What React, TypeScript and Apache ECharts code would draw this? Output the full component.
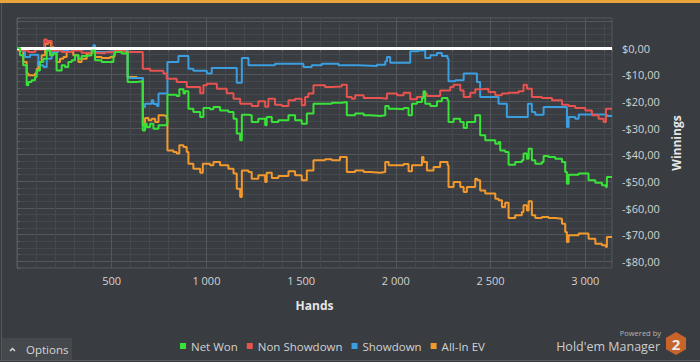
import React, { useEffect, useRef } from "react";
import * as echarts from "echarts";

const legendNames = ["Net Won", "Non Showdown", "Showdown", "All-In EV"];
const xAxisName = "Hands";
const yAxisName = "Winnings";

const netWonHands = [0, 16, 33, 51, 60, 77, 95, 104, 121, 139, 157, 174, 192, 209, 236, 253, 271, 289, 306, 324, 341, 368, 394, 412, 447, 491, 509, 517, 553, 579, 584, 632, 664, 676, 685, 703, 720, 747, 790, 794, 843, 857, 879, 887, 905, 931, 967, 984, 1019, 1037, 1072, 1116, 1143, 1160, 1178, 1187, 1222, 1239, 1274, 1310, 1318, 1345, 1380, 1433, 1468, 1503, 1530, 1565, 1626, 1662, 1714, 1741, 1785, 1830, 1865, 1918, 1944, 1962, 2006, 2041, 2067, 2085, 2111, 2138, 2146, 2155, 2182, 2217, 2243, 2273, 2278, 2305, 2340, 2358, 2375, 2419, 2445, 2472, 2525, 2542, 2551, 2577, 2595, 2630, 2665, 2674, 2692, 2701, 2718, 2736, 2771, 2780, 2806, 2841, 2877, 2894, 2903, 2912, 2965, 3017, 3053, 3088, 3109, 3114, 3141];
const netWonValues = [0, -2.75, -6.5, -14, -12.75, -12.1, -10.9, -8.4, -5.25, -4, -0.9, -2.75, -2.1, -8.4, -6.5, -7.1, -5.25, -4.6, -2.75, -4, -3, -2.75, -0.9, -4.6, -5.25, -5.25, -2.75, -1.5, -2.1, -1.5, -12.75, -12.5, -30.9, -28.4, -29.6, -28.4, -30.25, -29, -28.4, -17.5, -18, -15.5, -17.1, -16.25, -22.75, -24, -25.9, -22.5, -23, -22.1, -23.4, -24, -26.5, -32.1, -34.6, -25, -25.25, -27.75, -26.5, -29, -25.9, -27.75, -27.1, -25.25, -27.1, -28.4, -24.6, -20.9, -20.9, -20.5, -20.25, -25.25, -24.6, -25.25, -25.5, -25.25, -21.75, -22.75, -23, -22.5, -25.25, -20.9, -20.25, -18.75, -16.25, -20.9, -21.75, -20, -18.75, -19.6, -27.75, -26.5, -27.75, -30, -27.75, -25.25, -32.75, -34.6, -35.9, -35.25, -38.4, -39, -43.75, -42.75, -42.1, -39.6, -41.5, -37.75, -42.1, -43.4, -42.75, -40.5, -40.9, -41.5, -42.75, -46.5, -50.9, -47.5, -47.1, -49.6, -50.5, -51.5, -52.1, -48.4, -48.4];

const nonShowdownHands = [0, 25, 60, 95, 130, 144, 157, 165, 183, 236, 289, 341, 412, 465, 517, 570, 632, 664, 703, 773, 790, 843, 896, 967, 984, 1002, 1055, 1107, 1143, 1178, 1239, 1274, 1310, 1327, 1362, 1398, 1433, 1468, 1503, 1521, 1538, 1565, 1626, 1662, 1714, 1741, 1767, 1785, 1830, 1865, 1918, 1953, 2006, 2041, 2076, 2111, 2146, 2164, 2199, 2234, 2287, 2305, 2340, 2358, 2393, 2419, 2454, 2489, 2525, 2560, 2595, 2648, 2674, 2692, 2718, 2771, 2824, 2877, 2912, 2947, 3000, 3035, 3070, 3097, 3109, 3141];
const nonShowdownValues = [0, -0.9, -1.5, -0.6, -0.5, 3.2, 2.0, 2.6, -0.9, -1.5, -0.9, -1.8, -2.0, -1.6, -1.0, -1.5, -1.5, -7.75, -8.5, -9.6, -11.5, -12.75, -14.6, -17, -14, -13.4, -15.25, -17, -19, -20.9, -21.75, -20, -22, -19, -21.25, -21.75, -19.6, -19, -21.5, -18.4, -17.1, -14, -14.6, -14.4, -13.75, -18.4, -19, -17.75, -18.75, -18.75, -19, -17.1, -17.75, -16.75, -19.25, -18.4, -17.1, -18, -18, -15.9, -14.6, -13.75, -15.9, -18.4, -16.75, -15.5, -15.25, -16.5, -17.75, -17.1, -16.75, -16.25, -13.75, -15.25, -18.4, -18.75, -19.6, -21.25, -21.75, -22.5, -23.4, -25.25, -26.5, -27.75, -22.75, -23];

const showdownHands = [0, 25, 42, 69, 113, 139, 157, 183, 218, 271, 341, 394, 403, 412, 465, 517, 570, 584, 664, 676, 711, 720, 738, 747, 794, 852, 905, 931, 1002, 1028, 1160, 1187, 1222, 1362, 1512, 1556, 1609, 1697, 1802, 1900, 1944, 1953, 1970, 2076, 2120, 2146, 2155, 2182, 2217, 2243, 2273, 2278, 2314, 2358, 2428, 2445, 2542, 2586, 2697, 2718, 2736, 2780, 2903, 2912, 2947, 2965, 3105, 3114, 3141];
const showdownValues = [0, -1, -3.4, -2.5, -6.5, -7.1, -4, -1.5, -0.9, -0.6, -0.5, -0.25, 1, -1.5, -1.25, -0.6, -0.5, -11.25, -22.1, -20.9, -19.6, -21, -21.75, -17.1, -5.25, -3, -7.75, -8.5, -9.6, -7.5, -13, -3.75, -6.5, -5.9, -7.1, -6.5, -5.9, -6.5, -6.75, -6.25, -5, -3.4, -5.5, -1.25, -0.9, -0.25, -3.75, -2.75, -1.9, -3, -4, -12.5, -12.1, -9.6, -12.75, -18.4, -20.9, -25.9, -20.9, -24, -25, -22.1, -29.6, -25.9, -26.5, -24.9, -24.9, -25.5, -25.5];

const allInEvHands = [0, 7, 33, 51, 60, 95, 104, 113, 130, 148, 165, 180, 192, 209, 227, 245, 262, 297, 324, 341, 368, 394, 412, 447, 491, 514, 553, 584, 632, 664, 676, 694, 711, 729, 747, 773, 790, 794, 826, 843, 857, 879, 896, 905, 931, 967, 981, 1019, 1037, 1072, 1116, 1143, 1160, 1178, 1187, 1222, 1239, 1274, 1310, 1318, 1345, 1380, 1433, 1468, 1503, 1530, 1565, 1626, 1662, 1705, 1741, 1785, 1830, 1865, 1918, 1944, 1962, 2006, 2041, 2067, 2085, 2111, 2138, 2146, 2164, 2199, 2234, 2273, 2278, 2305, 2340, 2358, 2375, 2419, 2430, 2445, 2472, 2525, 2542, 2560, 2577, 2595, 2630, 2665, 2674, 2692, 2701, 2718, 2736, 2771, 2806, 2841, 2877, 2894, 2903, 2912, 2965, 3017, 3053, 3088, 3109, 3114, 3141];
const allInEvValues = [0, -0.9, -5.25, -9.6, -10.25, -9.6, -7.75, -5.25, -2.75, 1.6, 2.25, 0.4, -0.9, -5.25, -4, -3.4, -1.5, -2.75, -5.25, -4, -2.1, -0.9, -3.4, -3.75, -3.4, 0, -0.9, -10.9, -11.25, -29, -26.25, -27.1, -26.5, -27.75, -25.25, -25.5, -26.5, -38.4, -39, -39.6, -36.5, -37.1, -39, -43.4, -45.25, -46.75, -43.4, -44, -42.75, -44, -45.25, -47.1, -52.75, -55.9, -45.9, -46.5, -49, -47.75, -50.25, -46.75, -48.75, -48, -46.25, -47.75, -49.6, -45.9, -42.1, -41.75, -42.1, -40.9, -46.5, -45.9, -46.5, -46.75, -46.5, -42.75, -44, -44, -43.5, -46.25, -44, -44, -40.9, -42.75, -45.9, -44.6, -42.75, -44, -52.1, -50.25, -52.1, -54, -52.1, -49, -49.6, -53.4, -54.6, -56.5, -57.1, -59.6, -58, -63.75, -62.75, -61.5, -59, -60.9, -57.5, -62.75, -63.75, -63.4, -63.75, -64, -65.9, -69, -72.75, -70.25, -69.6, -71.5, -73.4, -74, -74.6, -70.9, -70.9];

const colors = { netWon: "#38e238", nonShowdown: "#e8524f", showdown: "#3a9ee0", allInEv: "#f2992e" };
const FONT = "'Open Sans', 'Noto Sans', sans-serif";

const zip = (xs: number[], ys: number[]) => xs.map((x, i) => [x, ys[i]]);

function fmtMoney(v: number): string {
  const s = Math.abs(v).toFixed(2).replace(".", ",");
  return (v < 0 ? "-$" : "$") + s;
}
function fmtHands(v: number): string {
  return String(v).replace(/\B(?=(\d{3})+(?!\d))/g, " ");
}

export default function App() {
  const ref = useRef<HTMLDivElement>(null);
  useEffect(() => {
    if (!ref.current) return;
    const chart = echarts.init(ref.current, undefined, { renderer: "svg" });
    const minor = "#45484c";
    const major = "#54575b";
    const lineSeries = (name: string, data: number[][], color: string, z: number, extra: any = {}) => ({
      name,
      type: "line",
      data,
      step: "end",
      showSymbol: false,
      symbol: "none",
      z,
      lineStyle: { color, width: 2 },
      itemStyle: { color },
      ...extra,
    });
    chart.setOption({
      animation: false,
      backgroundColor: "#393c40",
      textStyle: { fontFamily: FONT },
      grid: { left: 17, top: 18, right: 88, bottom: 94, show: true, borderColor: "#5b5e62", borderWidth: 1, backgroundColor: "transparent" },
      legend: {
        data: legendNames,
        left: 180,
        top: 340,
        padding: 0,
        itemGap: 9,
        itemWidth: 6,
        itemHeight: 6,
        icon: "rect",
        textStyle: { color: "#d2d2d2", fontSize: 11.5, fontFamily: FONT },
      },
      xAxis: {
        type: "value",
        min: 0,
        max: 3141,
        interval: 100,
        name: xAxisName,
        nameLocation: "middle",
        nameGap: 31,
        nameTextStyle: { color: "#e6e6e6", fontSize: 12, fontWeight: "bold", fontFamily: FONT },
        axisLine: { show: false },
        axisTick: { show: true, length: 4, lineStyle: { color: "#5b5e62" } },
        axisLabel: {
          color: "#d2d2d2",
          fontSize: 11,
          margin: 7,
          fontFamily: FONT,
          formatter: (v: number) => (v > 0 && v % 500 === 0 ? fmtHands(v) : ""),
        },
        splitLine: { show: true, lineStyle: { color: [major, minor, minor, minor, minor], width: 1 } },
      },
      yAxis: {
        type: "value",
        position: "right",
        min: -82.5,
        max: 11.25,
        interval: 2.5,
        name: yAxisName,
        nameLocation: "middle",
        nameRotate: 90,
        nameGap: 55,
        nameTextStyle: { color: "#e6e6e6", fontSize: 12, fontWeight: "bold", fontFamily: FONT },
        axisLine: { show: false },
        axisTick: { show: true, length: 3, lineStyle: { color: "#5b5e62" } },
        axisLabel: {
          color: "#d2d2d2",
          fontSize: 11,
          margin: 10,
          fontFamily: FONT,
          formatter: (v: number) => (v <= 0 && Math.abs(v % 10) < 1e-9 ? fmtMoney(v) : ""),
        },
        splitLine: { show: true, lineStyle: { color: [minor, major, minor, minor], width: 1 } },
      },
      series: [
        lineSeries("All-In EV", zip(allInEvHands, allInEvValues), colors.allInEv, 2, {
          markLine: {
            silent: true,
            symbol: "none",
            label: { show: false },
            lineStyle: { color: "#ffffff", width: 3, type: "solid" },
            data: [{ yAxis: 0 }],
          },
        }),
        lineSeries("Showdown", zip(showdownHands, showdownValues), colors.showdown, 3),
        lineSeries("Non Showdown", zip(nonShowdownHands, nonShowdownValues), colors.nonShowdown, 4),
        lineSeries("Net Won", zip(netWonHands, netWonValues), colors.netWon, 5),
      ],
      graphic: [
        { type: "rect", shape: { x: 0, y: 0, width: 700, height: 3 }, style: { fill: "#e9a43c" }, silent: true },
        { type: "rect", shape: { x: 1, y: 3, width: 1, height: 357 }, style: { fill: "#55585c" }, silent: true },
        { type: "rect", shape: { x: 0, y: 360, width: 700, height: 1 }, style: { fill: "#55585c" }, silent: true },
        { type: "rect", shape: { x: 2, y: 338, width: 70, height: 22 }, style: { fill: "#45484c" }, silent: true },
        { type: "polyline", shape: { points: [[10, 351], [12.5, 348.5], [15, 351]] }, style: { stroke: "#d6d6d6", lineWidth: 1.5, fill: "none" }, silent: true },
        { type: "text", x: 26, y: 349, style: { text: "Options", fill: "#d6d6d6", fontSize: 11.5, fontFamily: FONT, verticalAlign: "middle", align: "left" }, silent: true },
        { type: "text", x: 661, y: 333, style: { text: "Powered by", fill: "#b5b5b5", fontSize: 7.5, fontFamily: FONT, verticalAlign: "middle", align: "right" }, silent: true },
        { type: "text", x: 660, y: 346, style: { text: "Hold'em Manager", fill: "#cdcdcd", fontSize: 12.5, fontFamily: FONT, verticalAlign: "middle", align: "right" }, silent: true },
        { type: "polygon", shape: { points: [[676, 332], [686, 337.75], [686, 349.25], [676, 355], [666, 349.25], [666, 337.75]] }, style: { fill: "#c8642a" }, silent: true },
        { type: "text", x: 676, y: 344, style: { text: "2", fill: "#ececec", fontSize: 15, fontWeight: "bold", fontFamily: FONT, verticalAlign: "middle", align: "center" }, silent: true },
      ],
    });
    return () => chart.dispose();
  }, []);
  return <div ref={ref} style={{ position: "fixed", left: 0, top: 0, width: 700, height: 362 }} />;
}
